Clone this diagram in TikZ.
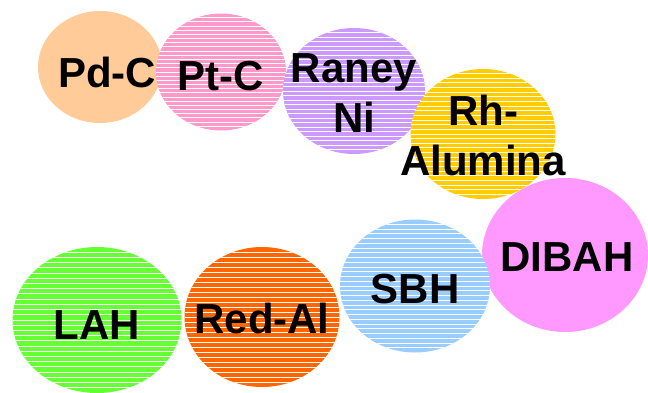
\documentclass[tikz,border=0pt]{standalone}
\usepackage{fontspec}
\setmainfont{Liberation Sans}
\usetikzlibrary{shapes.geometric,calc}

\definecolor{pdc}{HTML}{FFCC99}
\definecolor{ptc}{HTML}{FF99CC}
\definecolor{raney}{HTML}{CC99FF}
\definecolor{rhal}{HTML}{FFCC00}
\definecolor{dibah}{HTML}{FF99FF}
\definecolor{sbh}{HTML}{99CCFF}
\definecolor{lah}{HTML}{66FF33}
\definecolor{redal}{HTML}{FF6600}

\tikzset{
  blob/.style n args={3}{ellipse, draw=none, fill=#3, inner sep=0pt,
    minimum width=#1, minimum height=#2},
  % thin white horizontal bands across the filled oval
  striped/.style={path picture={
    \path (path picture bounding box.north west) coordinate (nw)
          (path picture bounding box.south east) coordinate (se);
    \foreach \k in {1,...,27}
      \draw[white, line width=1pt]
        ($(nw)!{\k/28}!(nw|-se)$) -- ($(se|-nw)!{\k/28}!(se)$);
  }},
  lbl/.style={font=\bfseries\fontsize{42}{50.5}\selectfont, text=black,
    inner sep=0pt, align=center}
}

\begin{document}
\begin{tikzpicture}[x=1pt,y=-1pt]
\useasboundingbox (0,0) rectangle (648,392);

% ovals, back to front
\node[blob={124pt}{112pt}{pdc}] (pdcoval) at (100,67) {};
\node[blob={130pt}{117pt}{ptc}, striped] (ptcoval) at (221,72) {};
\node[blob={142pt}{126pt}{raney}, striped] (raneyoval) at (354,91) {};
\node[blob={145pt}{130pt}{rhal}, striped] (rhoval) at (483,134) {};
\node[blob={166pt}{154pt}{dibah}] (dibahoval) at (565,255) {};
\node[blob={169pt}{146pt}{lah}, striped] (lahoval) at (97,320) {};
\node[blob={155pt}{140pt}{redal}, striped] (redaloval) at (262,317) {};
\node[blob={150pt}{133pt}{sbh}, striped] (sbhoval) at (415,286) {};

% labels
\node[lbl, anchor=base] (pdctext) at (107,87) {Pd-C};
\node[lbl, anchor=base] (ptctext) at (221,90) {Pt-C};
\node[lbl] (raneytext) at (354,93) {Raney\\Ni};
\node[lbl] (rhtext) at (483,135.5) {Rh-\\Alumina};
\node[lbl, anchor=base] (dibahtext) at (567,271) {DIBAH};
\node[lbl, anchor=base] (sbhtext) at (415,303) {SBH};
\node[lbl, anchor=base] (lahtext) at (97,339) {LAH};
\node[lbl, anchor=base] (redaltext) at (262,333) {Red-Al};
\end{tikzpicture}
\end{document}
